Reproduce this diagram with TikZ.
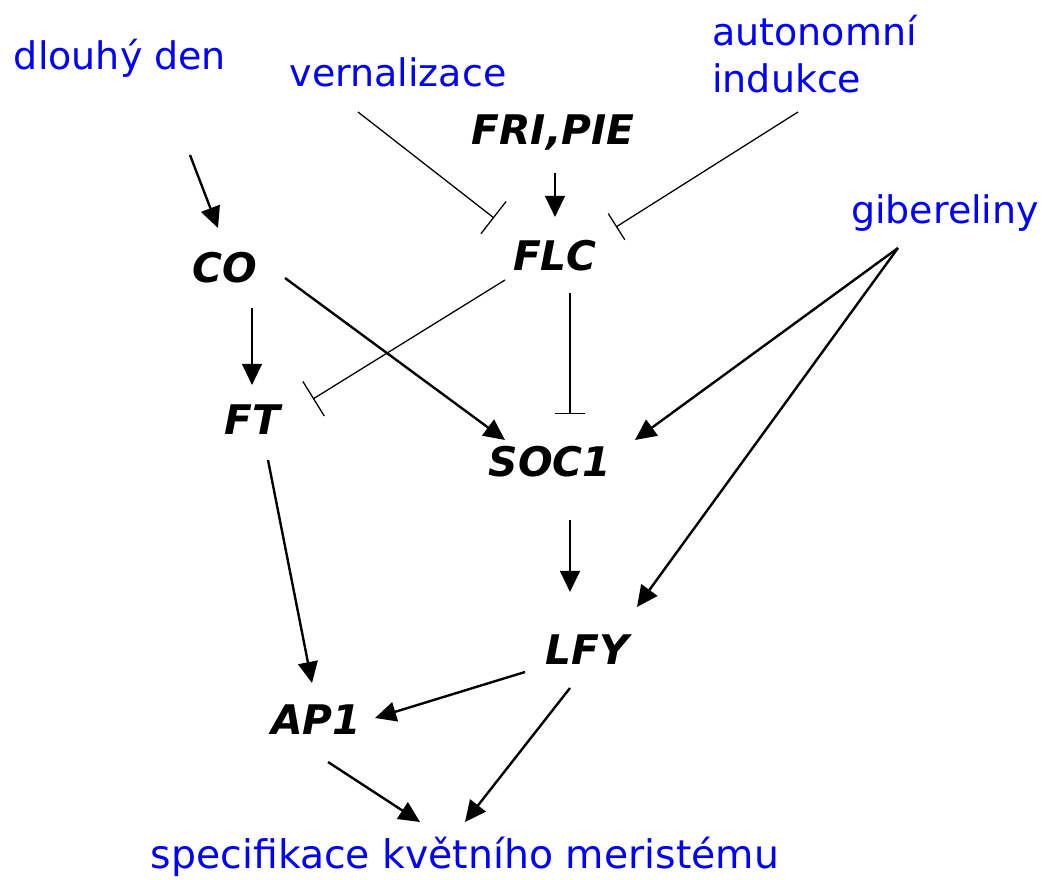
\documentclass[tikz,border=0pt]{standalone}
\usepackage{fontspec}
\setmainfont{DejaVu Sans}
\usetikzlibrary{arrows.meta}
\usetikzlibrary{positioning}

\begin{document}
\begin{tikzpicture}[x=0.025cm, y=-0.025cm,
    signal/.style={font=\fontsize{27}{34}\selectfont, text=blue, inner sep=0pt},
    gene/.style={font=\fontsize{29}{34}\selectfont\bfseries\itshape, inner sep=0pt},
    act/.style={-{Triangle[length=15pt, width=14pt]}, line width=1.7pt},
    inh/.style={-{Bar[width=29pt]}, line width=0.9pt},
    inhs/.style={-{Bar[width=22pt]}, line width=0.9pt}]
            \useasboundingbox (0,0) rectangle (1060,880);
            \node [signal] (den) at (120,58) {dlouhý den};
            \node [signal] (vern) at (398,72) {vernalizace};
            \node [signal, align=left, anchor=west] (auto) at (712,54) {autonomní\\indukce};
            \node [signal] (gib) at (945,213) {gibereliny};
            \node [signal, font=\fontsize{28}{34}\selectfont] (spec) at (465,857) {specifikace květního meristému};

            \node [gene] (fri) at (553,133) {FRI,PIE};
            \node [gene] (flc) at (555,256) {FLC};
            \node [gene] (co) at (225,268) {CO};
            \node [gene] (ft) at (252,420) {FT};
            \node [gene] (soc) at (550,462) {SOC1};
            \node [gene] (lfy) at (587,650) {LFY};
            \node [gene] (ap) at (316,720) {AP1};

            % aktivace
            \draw [act] ([shift={(70,97)}]den.center) -- ([shift={(-7,-40)}]co.center);
            \draw [act] ([shift={(2,40)}]fri.center) -- ([shift={(0,-39)}]flc.center);
            \draw [act] ([shift={(60,10)}]co.center) -- ([shift={(-45,-22)}]soc.center);
            \draw [act] ([shift={(27,40)}]co.center) -- ([shift={(0,-35)}]ft.center);
            \draw [act] ([shift={(-47,35)}]gib.center) -- ([shift={(85,-22)}]soc.center);
            \draw [act] ([shift={(-47,35)}]gib.center) -- ([shift={(50,-43)}]lfy.center);
            \draw [act] ([shift={(16,40)}]ft.center) -- ([shift={(-4,-37)}]ap.center);
            \draw [act] ([shift={(20,58)}]soc.center) -- ([shift={(-17,-58)}]lfy.center);
            \draw [act] ([shift={(-62,22)}]lfy.center) -- ([shift={(59,-2)}]ap.center);
            \draw [act] ([shift={(-17,38)}]lfy.center) -- ([shift={(0,-35)}]spec.center);
            \draw [act] ([shift={(12,42)}]ap.center) -- ([shift={(-45,-35)}]spec.center);

            % inhibice
            \draw [inh] ([shift={(-40,40)}]vern.center) -- ([shift={(-61,-38)}]flc.center);
            \draw [inhs] ([shift={(86,58)}]auto.west) -- ([shift={(61,-29)}]flc.center);
            \draw [inh] ([shift={(-50,24)}]flc.center) -- ([shift={(61,-21)}]ft.center);
            \draw [inhs] ([shift={(15,37)}]flc.center) -- ([shift={(20,-48)}]soc.center);
\end{tikzpicture}
\end{document}
